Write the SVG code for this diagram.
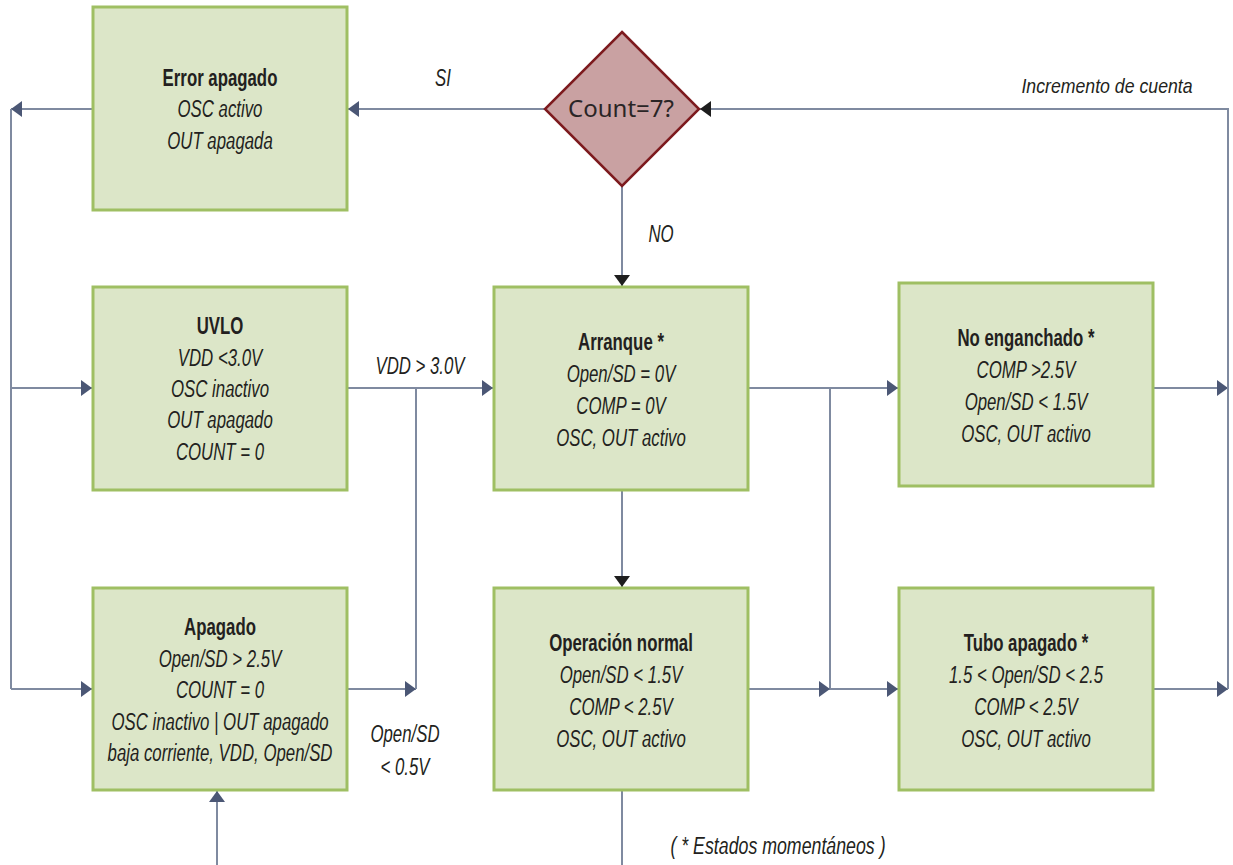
<svg xmlns="http://www.w3.org/2000/svg" width="1233" height="865" viewBox="0 0 1233 865">
  <style>
    .box { fill: #dce6c8; stroke: #9fbf63; stroke-width: 3; }
    .dec { fill: #c9a1a2; stroke: #7d1a1e; stroke-width: 2.5; }
    .ln { fill: none; stroke: #7f8aa0; stroke-width: 2; }
    text { font-family: "Liberation Sans", Arial, sans-serif; font-size: 24px; fill: #231f20; text-anchor: middle; }
    .i { font-style: italic; }
    .b { font-weight: bold; }
    .q { font-family: "Noto Sans", "Liberation Sans", sans-serif; font-size: 24px; fill: #2a2526; }
  </style>
  <defs>
    <marker id="arr" markerUnits="userSpaceOnUse" markerWidth="12" markerHeight="18" refX="11" refY="8" orient="auto">
      <path d="M0,0 L11,8 L0,16 z" fill="#4b5775"/>
    </marker>
    <marker id="arrK" markerUnits="userSpaceOnUse" markerWidth="12" markerHeight="18" refX="11" refY="8" orient="auto">
      <path d="M0,0 L11,8 L0,16 z" fill="#1e1e1e"/>
    </marker>
  </defs>
  <rect width="1233" height="865" fill="#ffffff"/>

  <!-- connectors -->
  <g id="connectors">
    <path class="ln" d="M93,109 H11" marker-end="url(#arr)"/>
    <path class="ln" d="M11,109 V689"/>
    <path class="ln" d="M11,388 H92" marker-end="url(#arr)"/>
    <path class="ln" d="M11,689 H92" marker-end="url(#arr)"/>
    <path class="ln" d="M545,109 H348" marker-end="url(#arr)"/>
    <path class="ln" d="M622,186 V286" marker-end="url(#arrK)"/>
    <path class="ln" d="M347,388 H493" marker-end="url(#arr)"/>
    <path class="ln" d="M347,689 H416" marker-end="url(#arr)"/>
    <path class="ln" d="M416,689 V388"/>
    <path class="ln" d="M622,490 V587" marker-end="url(#arrK)"/>
    <path class="ln" d="M748,388 H898" marker-end="url(#arr)"/>
    <path class="ln" d="M830,388 V689"/>
    <path class="ln" d="M748,689 H830" marker-end="url(#arr)"/>
    <path class="ln" d="M830,689 H898" marker-end="url(#arr)"/>
    <path class="ln" d="M1153,388 H1228" marker-end="url(#arr)"/>
    <path class="ln" d="M1153,689 H1228" marker-end="url(#arr)"/>
    <path class="ln" d="M1228,689 V109 H700" marker-end="url(#arrK)"/>
    <path class="ln" d="M217,865 V791" marker-end="url(#arr)"/>
    <path class="ln" d="M622,790 V865"/>
  </g>

  <!-- connector labels -->
  <g id="labels">
    <g transform="translate(443,0) scale(0.7,1)"><text class="i" x="0" y="86">SI</text></g>
    <g transform="translate(661,0) scale(0.7,1)"><text class="i" x="0" y="242">NO</text></g>
    <g transform="translate(1107,0) scale(0.885,1)"><text class="i" x="0" y="93" style="font-size:20px">Incremento de cuenta</text></g>
    <g transform="translate(420,0) scale(0.7,1)"><text class="i" x="0" y="374">VDD &gt; 3.0V</text></g>
    <g transform="translate(405,0) scale(0.7,1)">
      <text class="i" x="0" y="742">Open/SD</text>
      <text class="i" x="0" y="775">&lt; 0.5V</text>
    </g>
    <g transform="translate(778,0) scale(0.74,1)"><text class="i" x="0" y="854">( * Estados momentáneos )</text></g>
  </g>

  <!-- decision -->
  <g id="count-check">
    <polygon class="dec" points="622,32 699,109 622,186 545,109"/>
    <text class="q" x="621" y="117">Count=7?</text>
  </g>

  <g id="error-apagado">
    <rect class="box" x="93" y="7" width="254" height="203"/>
    <g transform="translate(220,0) scale(0.7,1)">
      <text class="b" x="0" y="86">Error apagado</text>
      <text class="i" x="0" y="117">OSC activo</text>
      <text class="i" x="0" y="149">OUT apagada</text>
    </g>
  </g>

  <g id="uvlo">
    <rect class="box" x="93" y="287" width="254" height="203"/>
    <g transform="translate(220,0) scale(0.7,1)">
      <text class="b" x="0" y="334">UVLO</text>
      <text class="i" x="0" y="366">VDD &lt;3.0V</text>
      <text class="i" x="0" y="397">OSC inactivo</text>
      <text class="i" x="0" y="428">OUT apagado</text>
      <text class="i" x="0" y="460">COUNT = 0</text>
    </g>
  </g>

  <g id="apagado">
    <rect class="box" x="93" y="588" width="254" height="202"/>
    <g transform="translate(220,0) scale(0.7,1)">
      <text class="b" x="0" y="635">Apagado</text>
      <text class="i" x="0" y="667">Open/SD &gt; 2.5V</text>
      <text class="i" x="0" y="698">COUNT = 0</text>
      <text class="i" x="0" y="730">OSC inactivo | OUT apagado</text>
      <text class="i" x="0" y="761">baja corriente, VDD, Open/SD</text>
    </g>
  </g>

  <g id="arranque">
    <rect class="box" x="494" y="287" width="254" height="203"/>
    <g transform="translate(621,0) scale(0.7,1)">
      <text class="b" x="0" y="350">Arranque *</text>
      <text class="i" x="0" y="382">Open/SD = 0V</text>
      <text class="i" x="0" y="414">COMP = 0V</text>
      <text class="i" x="0" y="446">OSC, OUT activo</text>
    </g>
  </g>

  <g id="operacion-normal">
    <rect class="box" x="494" y="588" width="254" height="202"/>
    <g transform="translate(621,0) scale(0.7,1)">
      <text class="b" x="0" y="651">Operación normal</text>
      <text class="i" x="0" y="683">Open/SD &lt; 1.5V</text>
      <text class="i" x="0" y="715">COMP &lt; 2.5V</text>
      <text class="i" x="0" y="747">OSC, OUT activo</text>
    </g>
  </g>

  <g id="no-enganchado">
    <rect class="box" x="899" y="283" width="254" height="203"/>
    <g transform="translate(1026,0) scale(0.7,1)">
      <text class="b" x="0" y="346">No enganchado *</text>
      <text class="i" x="0" y="378">COMP &gt;2.5V</text>
      <text class="i" x="0" y="410">Open/SD &lt; 1.5V</text>
      <text class="i" x="0" y="442">OSC, OUT activo</text>
    </g>
  </g>

  <g id="tubo-apagado">
    <rect class="box" x="899" y="588" width="254" height="202"/>
    <g transform="translate(1026,0) scale(0.7,1)">
      <text class="b" x="0" y="651">Tubo apagado *</text>
      <text class="i" x="0" y="683">1.5 &lt; Open/SD &lt; 2.5</text>
      <text class="i" x="0" y="715">COMP &lt; 2.5V</text>
      <text class="i" x="0" y="747">OSC, OUT activo</text>
    </g>
  </g>
</svg>
